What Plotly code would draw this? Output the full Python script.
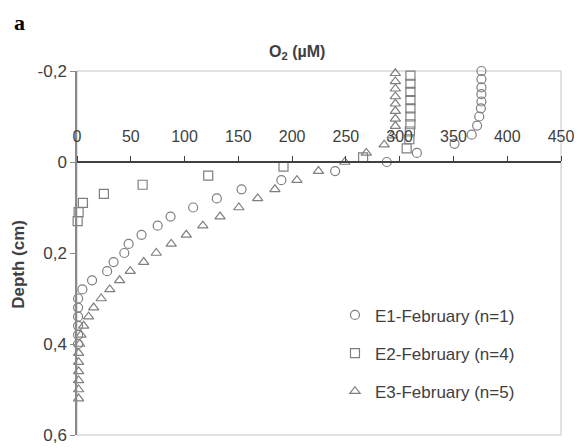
import plotly.graph_objects as go

# ---- axis ticks ----
x_ticks = [0, 50, 100, 150, 200, 250, 300, 350, 400, 450]
y_tickvals = [-0.2, 0, 0.2, 0.4, 0.6]
y_ticktext = ["-0,2", "0", "0,2", "0,4", "0,6"]

# ---- E1-February (n=1) ----
e1_depth = [-0.2, -0.182, -0.164, -0.149, -0.133, -0.118, -0.1, -0.08, -0.06, -0.04, -0.02, 0.0,
            0.02, 0.04, 0.06, 0.08, 0.10, 0.12, 0.14, 0.16, 0.18, 0.20, 0.22, 0.24, 0.26, 0.28,
            0.30, 0.32, 0.34, 0.36, 0.38, 0.40]
e1_o2 = [376, 376, 376, 376, 376, 375.5, 374, 372, 367, 351, 316, 288,
         240, 190, 153, 130, 108, 87, 75, 60, 48, 44, 34, 28, 14, 5,
         1, 1, 1, 1, 1, 1]

# ---- E2-February (n=4) ----
e2_depth = [-0.19, -0.172, -0.154, -0.136, -0.118, -0.1, -0.083, -0.067, -0.05, -0.03, -0.01,
            0.01, 0.03, 0.05, 0.07, 0.09, 0.11, 0.13]
e2_o2 = [310, 310, 310, 310, 310, 310, 310, 309.5, 309, 306.5, 266,
         192, 122, 61, 25, 5.5, 1.5, 0.6]

# ---- E3-February (n=5) ----
e3_depth = [-0.195, -0.177, -0.161, -0.144, -0.128, -0.112, -0.095, -0.079, -0.058, -0.038, -0.02, 0.0,
            0.02, 0.04, 0.06, 0.08, 0.10, 0.12, 0.14, 0.16, 0.18, 0.20, 0.22, 0.24, 0.26, 0.28,
            0.30, 0.32, 0.34, 0.36, 0.38, 0.40, 0.42, 0.44, 0.46, 0.48, 0.50, 0.52]
e3_o2 = [296, 296, 296, 296, 296, 296, 296, 296, 293, 285.6, 269, 249,
         224.5, 204.5, 184, 168, 150.5, 133, 117, 101.6, 87.6, 73.7, 62, 49.5, 39.6, 30.5,
         22.5, 15.5, 10.8, 6.2, 3.7, 2.5, 1.5, 1.5, 1.5, 1.5, 1.5, 1.5]

series_names = ["E1-February (n=1)", "E2-February (n=4)", "E3-February (n=5)"]

GRAY = "#7f7f7f"
FONT = "Arial, Liberation Sans, sans-serif"

fig = go.Figure()
for name, xs, ys, sym, grp in [
    (series_names[0], e1_o2, e1_depth, "circle-open", "g1"),
    (series_names[1], e2_o2, e2_depth, "square-open", "g2"),
    (series_names[2], e3_o2, e3_depth, "triangle-up-open", "g3"),
]:
    fig.add_trace(go.Scatter(
        x=xs, y=ys, mode="markers", name=name, legendgroup=grp,
        marker=dict(symbol=sym, size=9, color=GRAY, line=dict(width=1.2, color=GRAY)),
        cliponaxis=False,
    ))

# light frame around plot area
fig.add_shape(type="rect", xref="x domain", yref="y domain", x0=0, x1=1, y0=0, y1=1,
              line=dict(color="#c4c4c4", width=1), layer="below")

fig.update_layout(
    width=579, height=448,
    margin=dict(l=77, r=18, t=71, b=13),
    paper_bgcolor="white", plot_bgcolor="white",
    font=dict(family=FONT, size=16, color="#404040"),
    xaxis=dict(range=[0, 450], tickvals=x_ticks, side="top", anchor="free", position=0.75,
               showline=True, linecolor="#404040", linewidth=1.5,
               ticks="outside", ticklen=5, tickcolor="#404040", tickwidth=1,
               showgrid=False, zeroline=False, ticklabelstandoff=8, automargin=False,
               tickfont=dict(size=16)),
    yaxis=dict(range=[0.6, -0.2], tickvals=y_tickvals, ticktext=y_ticktext,
               showline=True, linecolor="#8a8a8a", linewidth=1.5,
               ticks="outside", ticklen=5, tickcolor="#8a8a8a",
               showgrid=False, zeroline=False, automargin=False,
               tickfont=dict(size=17)),
    legend=dict(x=0.533, y=0.378, xanchor="left", yanchor="top", tracegroupgap=13,
                font=dict(size=17, color="#404040"), bgcolor="rgba(0,0,0,0)"),
    annotations=[
        dict(text="<b>O<sub>2</sub> (µM)</b>", xref="paper", yref="paper", x=0.455, y=1.052,
             xanchor="center", yanchor="middle",
             showarrow=False, font=dict(size=16, color="#404040")),
        dict(text="<b>Depth (cm)</b>", xref="paper", yref="paper", x=-0.12, y=0.47,
             xanchor="center", yanchor="middle",
             textangle=-90, showarrow=False, font=dict(size=17, color="#404040")),
        dict(text="<b>a</b>", xref="paper", yref="paper", x=-0.118, y=1.1346,
             xanchor="center", yanchor="middle",
             showarrow=False, font=dict(size=22, color="black", family="Liberation Serif, Times New Roman, serif")),
    ],
)

fig.write_html("out.html",
               config={"displayModeBar": False},
               post_script="document.body.style.margin='0';document.body.style.padding='0';")
